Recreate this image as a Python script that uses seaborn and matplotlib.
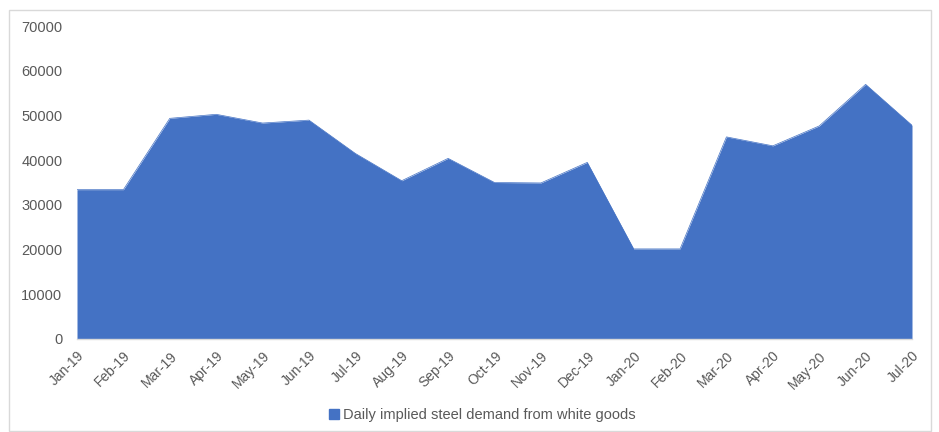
import matplotlib
matplotlib.use("Agg")
import matplotlib.pyplot as plt
from matplotlib.patches import Rectangle
from matplotlib.lines import Line2D
import seaborn as sns
import pandas as pd
import numpy as np

months = ["Jan-19", "Feb-19", "Mar-19", "Apr-19", "May-19", "Jun-19", "Jul-19",
          "Aug-19", "Sep-19", "Oct-19", "Nov-19", "Dec-19", "Jan-20", "Feb-20",
          "Mar-20", "Apr-20", "May-20", "Jun-20", "Jul-20"]
demand = [33400, 33400, 49350, 50250, 48300, 48950, 41500, 35400, 40400, 35000,
          34900, 39500, 20150, 20150, 45200, 43200, 47650, 56950, 47800]
series_name = "Daily implied steel demand from white goods"
yticks = [0, 10000, 20000, 30000, 40000, 50000, 60000, 70000]

sns.set_theme(style="white")
plt.rcParams["font.family"] = ["Liberation Sans Narrow", "Liberation Sans", "DejaVu Sans"]

df = pd.DataFrame({"idx": np.arange(len(months)), "month": months, "demand": demand})

fig = plt.figure(figsize=(9.39, 4.32), dpi=100)
ax = fig.add_axes([77 / 939, 1 - 339 / 432, (912 - 77) / 939, (339 - 26) / 432])

color = "#4472C4"
sns.lineplot(data=df, x="idx", y="demand", ax=ax, color=color, linewidth=0.5)
ax.fill_between(df["idx"], df["demand"], 0, color=color, linewidth=0)

ax.set_xlim(0, len(months) - 1)
ax.set_ylim(0, 70000)
ax.set_yticks(yticks)
ax.set_yticklabels([str(v) for v in yticks], fontsize=10.5, color="#595959")
ax.set_xticks(df["idx"])
ax.set_xticklabels(months, rotation=45, ha="right", rotation_mode="anchor",
                   fontsize=10, color="#595959")
ax.tick_params(axis="x", length=0, pad=7)
ax.tick_params(axis="y", length=0, pad=10.5)
ax.set_xlabel("")
ax.set_ylabel("")
for s in ["top", "right", "left"]:
    ax.spines[s].set_visible(False)
ax.spines["bottom"].set_color("#D9D9D9")
ax.spines["bottom"].set_linewidth(1)

handle = Line2D([0], [0], marker="s", linestyle="none", markersize=7,
                markerfacecolor=color, markeredgecolor=color)
fig.legend([handle], [series_name], loc="center", bbox_to_anchor=(482 / 939, 1 - 415 / 432),
           frameon=False, fontsize=10.5, labelcolor="#595959", handletextpad=0.2,
           handlelength=0.8)

fig.patches.append(Rectangle((9 / 939, 1 / 432), 922 / 939, 421 / 432,
                             transform=fig.transFigure, fill=False,
                             edgecolor="#D9D9D9", linewidth=1))

fig.savefig("out.png", dpi=100)
